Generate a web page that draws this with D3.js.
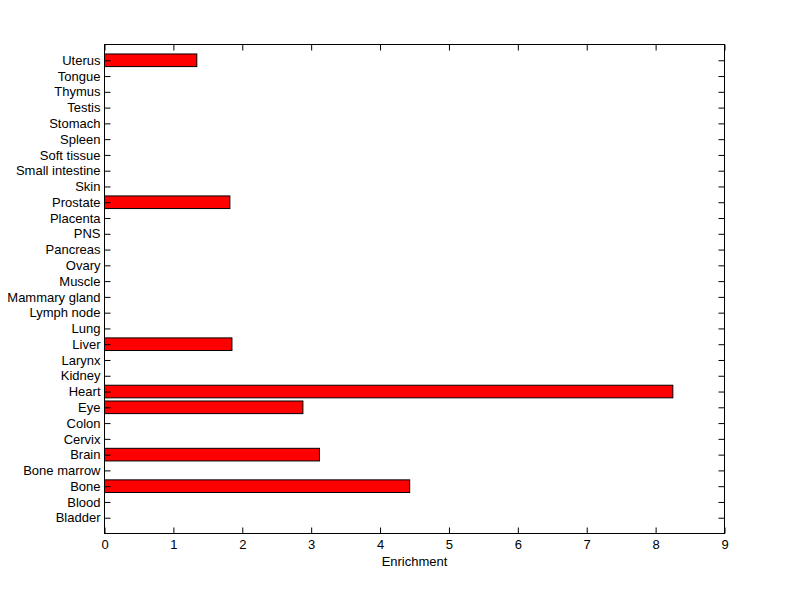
<!DOCTYPE html>
<html><head><meta charset="utf-8">
<script src="https://cdn.jsdelivr.net/npm/d3@7"></script>
<style>body{margin:0;background:#fff}svg{display:block}text{font-family:"Liberation Sans",Arial,sans-serif}</style>
</head><body>
<svg id="c" width="800" height="599"></svg>
<script>
const categories = ["Bladder","Blood","Bone","Bone marrow","Brain","Cervix","Colon","Eye","Heart","Kidney","Larynx","Liver","Lung","Lymph node","Mammary gland","Muscle","Ovary","Pancreas","PNS","Placenta","Prostate","Skin","Small intestine","Soft tissue","Spleen","Stomach","Testis","Thymus","Tongue","Uterus"];
const values = [0,0,4.43,0,3.12,0,0,2.88,8.25,0,0,1.85,0,0,0,0,0,0,0,0,1.82,0,0,0,0,0,0,0,0,1.34];
const xTicks = [0,1,2,3,4,5,6,7,8,9];
const xLabel = "Enrichment";

const svg = d3.select("#c");
svg.append("rect").attr("width",800).attr("height",599).attr("fill","#fff");
const L=104.5, R=724.5, T=44.5, B=533.5;
const x = d3.scaleLinear().domain([0,9]).range([L,R]);
const y = d3.scaleLinear().domain([0,31]).range([B,T]);
const bw = 0.8*(y(0)-y(1));
const FS = "13px";

const g = svg.append("g");
g.selectAll("rect.bar").data(values.map((v,i)=>({v,i})).filter(d=>d.v>0)).join("rect")
  .attr("class","bar")
  .attr("x",x(0)).attr("y",d=>y(d.i+1)-bw/2)
  .attr("width",d=>x(d.v)-x(0)).attr("height",bw)
  .attr("fill","#ff0000").attr("stroke","#000").attr("stroke-width",1);

// frame
g.append("rect").attr("x",L).attr("y",T).attr("width",R-L).attr("height",B-T)
  .attr("fill","none").attr("stroke","#000").attr("stroke-width",1);

const tk=6;
const xb = svg.append("g").attr("transform",`translate(0,${B})`)
  .call(d3.axisBottom(x).tickValues(xTicks).tickSize(-tk).tickPadding(6).tickFormat(d3.format("d")));
const xt = svg.append("g").attr("transform",`translate(0,${T})`)
  .call(d3.axisTop(x).tickValues(xTicks).tickSize(-tk).tickFormat(""));
const yl = svg.append("g").attr("transform",`translate(${L},0)`)
  .call(d3.axisLeft(y).tickValues(d3.range(1,31)).tickSize(-tk).tickPadding(4)
    .tickFormat(d=>categories[d-1]));
const yr = svg.append("g").attr("transform",`translate(${R},0)`)
  .call(d3.axisRight(y).tickValues(d3.range(1,31)).tickSize(-tk).tickFormat(""));
[xb,xt,yl,yr].forEach(a=>{
  a.select(".domain").remove();
  a.selectAll("line").attr("stroke","#000");
  a.selectAll("text").attr("fill","#000").style("font-size",FS).style("font-family",'"Liberation Sans",Arial,sans-serif');
});
yl.selectAll("text").attr("x",-4);

svg.append("text").attr("x",(L+R)/2).attr("y",566).attr("text-anchor","middle")
  .attr("font-size",FS).attr("fill","#000").text(xLabel);
</script>
</body></html>
